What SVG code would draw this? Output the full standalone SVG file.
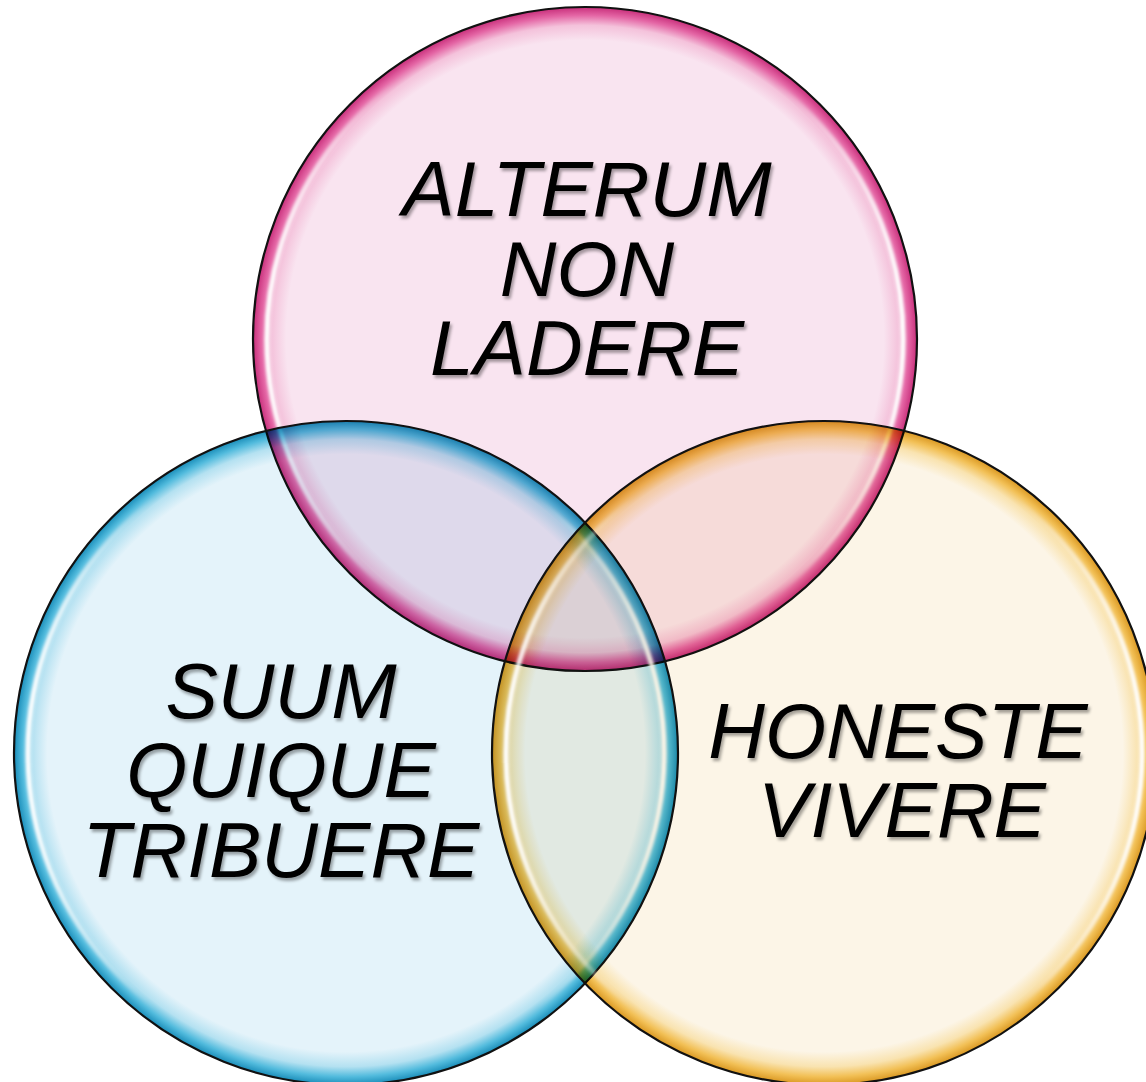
<svg xmlns="http://www.w3.org/2000/svg" width="1146" height="1082" viewBox="0 0 1146 1082">
  <style>
    .disc { mix-blend-mode: multiply; }
    .rim { fill: none; stroke: #111; stroke-width: 2.2; }
    .hl { fill: none; stroke: url(#hlGrad); stroke-width: 5; filter: url(#soft); }
    .lbl { font-family: "Liberation Sans", Arial, sans-serif; font-style: italic; font-size: 78.5px; fill: #000; text-anchor: middle; filter: url(#shadow); }
  </style>
  <defs>
    <radialGradient id="gPink">
      <stop offset="0" stop-color="#F9E4F0"/>
      <stop offset="0.9" stop-color="#F9E4F0"/>
      <stop offset="0.945" stop-color="#F4C2DB"/>
      <stop offset="0.975" stop-color="#E466A5"/>
      <stop offset="1" stop-color="#C82F7B"/>
    </radialGradient>
    <radialGradient id="gBlue">
      <stop offset="0" stop-color="#E4F3FA"/>
      <stop offset="0.9" stop-color="#E4F3FA"/>
      <stop offset="0.945" stop-color="#B4E1F1"/>
      <stop offset="0.975" stop-color="#52BBDD"/>
      <stop offset="1" stop-color="#1A8DB9"/>
    </radialGradient>
    <radialGradient id="gYellow">
      <stop offset="0" stop-color="#FCF5E7"/>
      <stop offset="0.9" stop-color="#FCF5E7"/>
      <stop offset="0.945" stop-color="#F9E3B0"/>
      <stop offset="0.975" stop-color="#F2C056"/>
      <stop offset="1" stop-color="#DA9822"/>
    </radialGradient>
    <linearGradient id="hlGrad" x1="0" y1="0" x2="1" y2="0">
      <stop offset="0" stop-color="#fff" stop-opacity="1"/>
      <stop offset="0.1" stop-color="#fff" stop-opacity="0.5"/>
      <stop offset="0.2" stop-color="#fff" stop-opacity="0"/>
      <stop offset="0.8" stop-color="#fff" stop-opacity="0"/>
      <stop offset="0.9" stop-color="#fff" stop-opacity="0.5"/>
      <stop offset="1" stop-color="#fff" stop-opacity="1"/>
    </linearGradient>
    <filter id="soft" x="-10%" y="-10%" width="120%" height="120%">
      <feGaussianBlur stdDeviation="1.8"/>
    </filter>
    <filter id="shadow" x="-10%" y="-20%" width="120%" height="150%">
      <feDropShadow dx="2" dy="3" stdDeviation="1.5" flood-color="#000" flood-opacity="0.35"/>
    </filter>
  </defs>
  <rect width="1146" height="1082" fill="#fff"/>
  <g id="node-alterum">
    <circle class="disc" cx="585" cy="339" r="332" fill="url(#gPink)"/>
    <circle class="hl" cx="585" cy="339" r="318"/>
    <circle class="rim" cx="585" cy="339" r="332"/>
    <text class="lbl"><tspan x="587" y="216">ALTERUM</tspan><tspan x="587" y="296">NON</tspan><tspan x="587" y="375">LADERE</tspan></text>
  </g>
  <g id="node-suum">
    <circle class="disc" cx="346" cy="753" r="332" fill="url(#gBlue)"/>
    <circle class="hl" cx="346" cy="753" r="318"/>
    <circle class="rim" cx="346" cy="753" r="332"/>
    <text class="lbl"><tspan x="281" y="718">SUUM</tspan><tspan x="281" y="797">QUIQUE</tspan><tspan x="281" y="877">TRIBUERE</tspan></text>
  </g>
  <g id="node-honeste">
    <circle class="disc" cx="824" cy="753" r="332" fill="url(#gYellow)"/>
    <circle class="hl" cx="824" cy="753" r="318"/>
    <circle class="rim" cx="824" cy="753" r="332"/>
    <text class="lbl"><tspan x="898" y="758">HONESTE</tspan><tspan x="902" y="837">VIVERE</tspan></text>
  </g>
  <g id="connectors"/>
</svg>
